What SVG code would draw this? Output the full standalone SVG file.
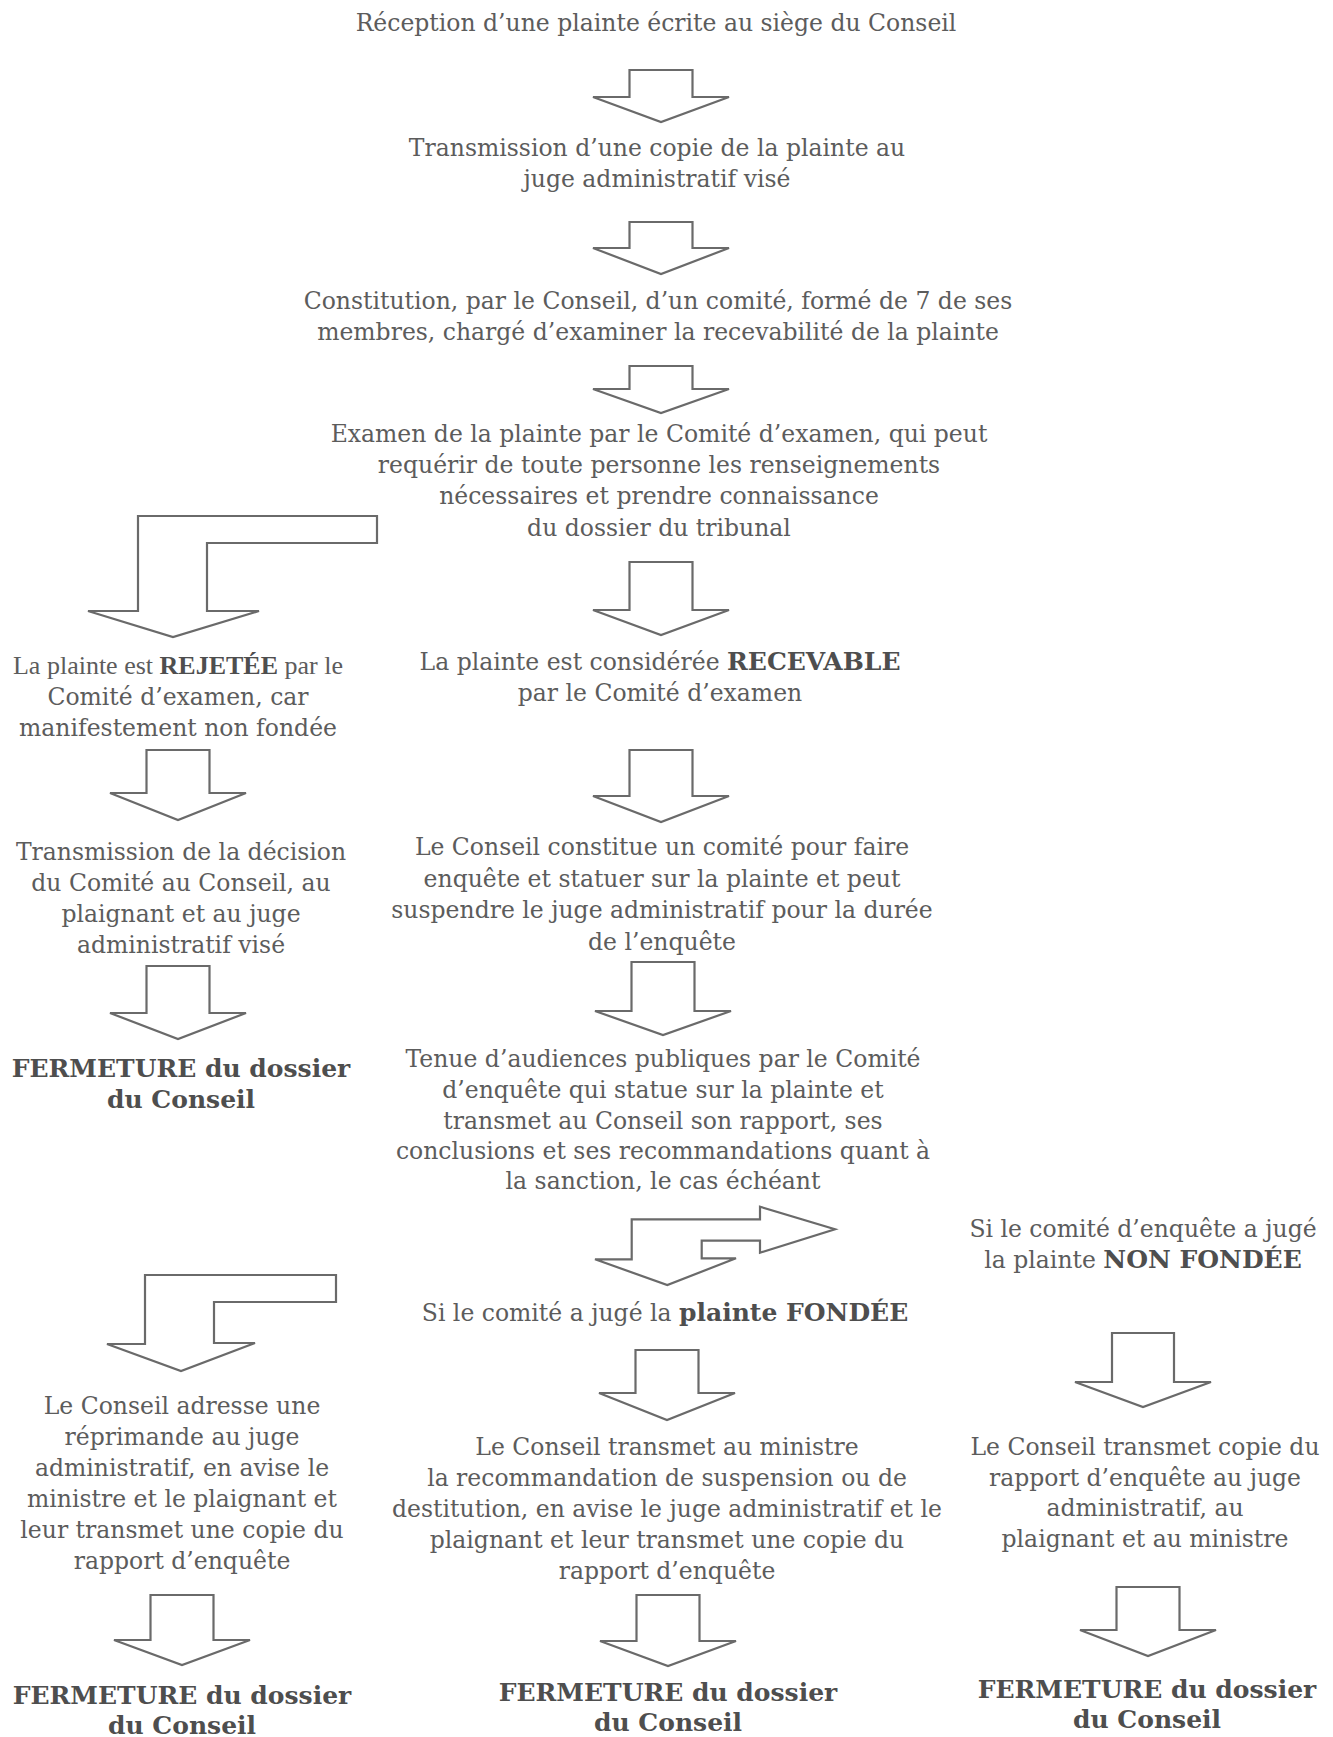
<svg xmlns="http://www.w3.org/2000/svg" width="1333" height="1737" viewBox="0 0 1333 1737">
<style>
text{font-family:"DejaVu Serif","Liberation Serif",serif;font-size:23.5px;fill:#5c5c5c;text-anchor:middle}
.b{font-weight:bold;fill:#4e4e4e;font-size:25px}
.t{font-family:"Liberation Serif",serif;font-size:26px}
.t .b{font-size:26px}
.arr{fill:#fff;stroke:#6a6a6a;stroke-width:2.2;stroke-linejoin:miter}
</style>
<rect width="1333" height="1737" fill="#fff"/>
<g id="connectors" class="arr">
<path d="M629.5,70 H692.5 V97 H729 L661,122 L593,97 H629.5 Z"/>
<path d="M629.5,222 H692.5 V248 H729 L661,274 L593,248 H629.5 Z"/>
<path d="M629.5,366 H692.5 V389 H729 L661,413 L593,389 H629.5 Z"/>
<path d="M138,516 H377 V543 H207 V611 H259 L173,637 L88,611 H138 Z"/>
<path d="M629.5,562 H692.5 V610 H729 L661,635 L593,610 H629.5 Z"/>
<path d="M146.5,750 H209.5 V793 H246 L178,820 L110,793 H146.5 Z"/>
<path d="M629.5,750 H692.5 V796 H729 L661,822 L593,796 H629.5 Z"/>
<path d="M146.5,966 H209.5 V1013 H246 L178,1039 L110,1013 H146.5 Z"/>
<path d="M631.5,962 H694.5 V1011 H731 L663,1035 L595,1011 H631.5 Z"/>
<path d="M631.7,1219.3 H760 V1206.7 L835,1229.3 L760,1252.7 V1240.7 H701.7 V1258.3 H736 L667.3,1285 L595,1259.3 H631.7 Z"/>
<path d="M145,1275 H336 V1302 H214 V1343 H255 L181,1371 L107,1344 H145 Z"/>
<path d="M635.5,1350 H698.5 V1393 H735 L667,1420 L599,1393 H635.5 Z"/>
<path d="M1112,1333 H1174 V1382 H1211 L1143,1407 L1075,1382 H1112 Z"/>
<path d="M150.5,1595 H213.5 V1640 H250 L182,1665 L114,1640 H150.5 Z"/>
<path d="M636.5,1595 H699.5 V1641 H736 L668,1666 L600,1641 H636.5 Z"/>
<path d="M1116.5,1587 H1179.5 V1630 H1216 L1148,1656 L1080,1630 H1116.5 Z"/>
</g>
<g id="n1"><text x="656" y="31">Réception d’une plainte écrite au siège du Conseil</text></g>
<g id="n2"><text x="657" y="156">Transmission d’une copie de la plainte au</text><text x="657" y="187">juge administratif visé</text></g>
<g id="n3"><text x="658" y="309">Constitution, par le Conseil, d’un comité, formé de 7 de ses</text><text x="658" y="340">membres, chargé d’examiner la recevabilité de la plainte</text></g>
<g id="n4"><text x="659" y="442">Examen de la plainte par le Comité d’examen, qui peut</text><text x="659" y="473">requérir de toute personne les renseignements</text><text x="659" y="504">nécessaires et prendre connaissance</text><text x="659" y="536">du dossier du tribunal</text></g>
<g id="n5a"><text class="t" x="178" y="674">La plainte est <tspan class="b">REJETÉE</tspan> par le</text><text x="178" y="705">Comité d’examen, car</text><text x="178" y="736">manifestement non fondée</text></g>
<g id="n5b"><text x="660" y="670">La plainte est considérée <tspan class="b">RECEVABLE</tspan></text><text x="660" y="701">par le Comité d’examen</text></g>
<g id="n6a"><text x="181" y="860">Transmission de la décision</text><text x="181" y="891">du Comité au Conseil, au</text><text x="181" y="922">plaignant et au juge</text><text x="181" y="953">administratif visé</text></g>
<g id="n6b"><text x="662" y="855">Le Conseil constitue un comité pour faire</text><text x="662" y="887">enquête et statuer sur la plainte et peut</text><text x="662" y="918">suspendre le juge administratif pour la durée</text><text x="662" y="950">de l’enquête</text></g>
<g id="n7a"><text class="b" x="181" y="1077">FERMETURE du dossier</text><text class="b" x="181" y="1108">du Conseil</text></g>
<g id="n7b"><text x="663" y="1067">Tenue d’audiences publiques par le Comité</text><text x="663" y="1098">d’enquête qui statue sur la plainte et</text><text x="663" y="1129">transmet au Conseil son rapport, ses</text><text x="663" y="1159">conclusions et ses recommandations quant à</text><text x="663" y="1189">la sanction, le cas échéant</text></g>
<g id="n8c"><text x="1143" y="1237">Si le comité d’enquête a jugé</text><text x="1143" y="1268">la plainte <tspan class="b">NON FONDÉE</tspan></text></g>
<g id="n8b"><text x="665" y="1321">Si le comité a jugé la <tspan class="b">plainte FONDÉE</tspan></text></g>
<g id="n9a"><text x="182" y="1414">Le Conseil adresse une</text><text x="182" y="1445">réprimande au juge</text><text x="182" y="1476">administratif, en avise le</text><text x="182" y="1507">ministre et le plaignant et</text><text x="182" y="1538">leur transmet une copie du</text><text x="182" y="1569">rapport d’enquête</text></g>
<g id="n9b"><text x="667" y="1455">Le Conseil transmet au ministre</text><text x="667" y="1486">la recommandation de suspension ou de</text><text x="667" y="1517">destitution, en avise le juge administratif et le</text><text x="667" y="1548">plaignant et leur transmet une copie du</text><text x="667" y="1579">rapport d’enquête</text></g>
<g id="n9c"><text x="1145" y="1455">Le Conseil transmet copie du</text><text x="1145" y="1486">rapport d’enquête au juge</text><text x="1145" y="1516">administratif, au</text><text x="1145" y="1547">plaignant et au ministre</text></g>
<g id="n10a"><text class="b" x="182" y="1704">FERMETURE du dossier</text><text class="b" x="182" y="1734">du Conseil</text></g>
<g id="n10b"><text class="b" x="668" y="1701">FERMETURE du dossier</text><text class="b" x="668" y="1731">du Conseil</text></g>
<g id="n10c"><text class="b" x="1147" y="1698">FERMETURE du dossier</text><text class="b" x="1147" y="1728">du Conseil</text></g>
</svg>
